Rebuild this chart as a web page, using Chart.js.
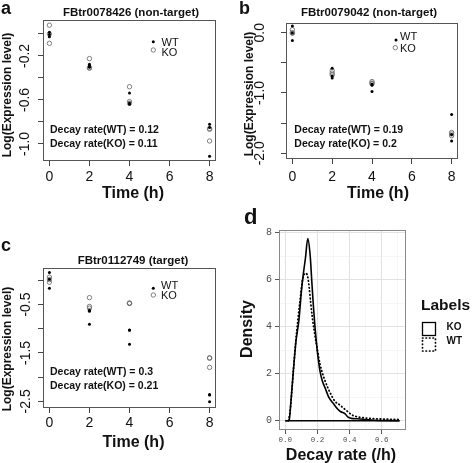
<!DOCTYPE html>
<html>
<head>
<meta charset="utf-8">
<script src="https://cdn.jsdelivr.net/npm/chart.js@4.4.1/dist/chart.umd.min.js"></script>
<style>
  html, body { margin: 0; padding: 0; background: #fff; }
  #wrap { position: relative; width: 472px; height: 463px; overflow: hidden; background: #fff; }
  canvas { position: absolute; }
</style>
</head>
<body>
<div id="wrap">
  <canvas id="pa" width="236" height="215" style="left:0;top:0"></canvas>
  <canvas id="pb" width="236" height="205" style="left:236px;top:0"></canvas>
  <canvas id="pc" width="236" height="233" style="left:0;top:230px"></canvas>
  <canvas id="pd" width="236" height="258" style="left:236px;top:205px"></canvas>
</div>
<script>
// ---- data ----
const times = [0, 2, 4, 8];
const xTicks = [0, 2, 4, 6, 8];

// panel a : FBtr0078426, three replicates per time point
const aWT = [[0.015, -0.005, -0.025], [-0.276, -0.29, -0.302], [-0.536, -0.64, -0.628], [-0.82, -0.85, -1.112]];
const aKO = [[0.08, 0.0, -0.085], [-0.224, -0.312, -0.305], [-0.48, -0.615, -0.63], [-0.867, -0.973, -0.86]];
const aYTicks = [0, -0.2, -0.4, -0.6, -0.8, -1.0];
const aYLabels = [-0.2, -0.6, -1.0];

// panel b : FBtr0079042
const bWT = [[0.11, -0.005, -0.13], [-0.59, -0.72, -0.75], [-0.85, -0.87, -0.975], [-1.355, -1.69, -1.795]];
const bKO = [[0.05, 0.0, -0.01], [-0.63, -0.67, -0.70], [-0.81, -0.835, -0.845], [-1.655, -1.71, -1.68]];
const bYTicks = [0, -0.5, -1.0, -1.5, -2.0];
const bYLabels = [0, -1.0, -2.0];

// panel c : FBtr0112749
const cWT = [[0.16, 0.02, -0.165], [-0.64, -0.91, -0.62], [-1.026, -1.32, -1.03], [-2.36, -2.51, -2.37]];
const cKO = [[0.065, 0.015, -0.04], [-0.358, -0.54, -0.575], [-0.47, -0.475, -0.48], [-1.6, -1.8, -1.61]];
const cYTicks = [0, -0.5, -1.0, -1.5, -2.0, -2.5];
const cYLabels = [-0.5, -1.5, -2.5];

// panel d : density of decay rates
const dKOx = [0, 0.02, 0.025, 0.035, 0.05, 0.066, 0.085, 0.1, 0.115, 0.125, 0.14, 0.155, 0.165, 0.175, 0.185, 0.2, 0.216, 0.23, 0.25, 0.27, 0.3, 0.325, 0.345, 0.37, 0.39, 0.41, 0.45, 0.5, 0.55, 0.6, 0.71];
const dKOy = [0, 0, 0.05, 0.8, 2.1, 3.35, 4.3, 5.5, 6.4, 6.9, 7.75, 7.0, 5.9, 4.85, 3.95, 2.9, 2.1, 1.7, 1.35, 1.0, 0.72, 0.5, 0.38, 0.3, 0.15, 0.1, 0.08, 0.05, 0.02, 0.01, 0];
const dWTx = [0.02, 0.03, 0.04, 0.05, 0.065, 0.08, 0.095, 0.105, 0.115, 0.13, 0.14, 0.148, 0.158, 0.168, 0.178, 0.195, 0.216, 0.247, 0.278, 0.309, 0.333, 0.375, 0.416, 0.45, 0.478, 0.54, 0.6, 0.644, 0.7, 0.717];
const dWTy = [0, 0.4, 1.2, 2.1, 3.35, 4.4, 5.3, 5.9, 6.2, 6.27, 6.1, 5.7, 5.0, 4.4, 3.9, 3.2, 2.4, 1.7, 1.2, 0.82, 0.7, 0.46, 0.24, 0.16, 0.13, 0.09, 0.07, 0.06, 0.05, 0];
const dBaseX = [0, 0.71];
const dXTicks = [0, 0.1, 0.2, 0.3, 0.4, 0.5, 0.6, 0.7];
const dXMajor = [0, 0.2, 0.4, 0.6];
const dYTicks = [0, 1, 2, 3, 4, 5, 6, 7, 8];
const dYMajor = [0, 2, 4, 6, 8];

// ---- helpers ----
const SANS = "'Liberation Sans', Arial, sans-serif";
const MONO = "'Liberation Mono', 'Courier New', monospace";

function pts(vals) {
  const out = [];
  times.forEach((t, i) => vals[i].forEach((v) => out.push({ x: t, y: v })));
  return out;
}

function txt(ctx, s, x, y, font, align, rot) {
  ctx.save();
  ctx.font = font;
  ctx.fillStyle = "#111";
  ctx.textAlign = align || "left";
  ctx.textBaseline = rot ? "middle" : "alphabetic";
  ctx.translate(x, y);
  if (rot) ctx.rotate(-Math.PI / 2);
  ctx.fillText(s, 0, 0);
  ctx.restore();
}

function dot(ctx, x, y, open) {
  ctx.save();
  ctx.beginPath();
  if (open) {
    ctx.arc(x, y, 2.2, 0, Math.PI * 2);
    ctx.strokeStyle = "#707070";
    ctx.lineWidth = 0.9;
    ctx.stroke();
  } else {
    ctx.arc(x, y, 1.5, 0, Math.PI * 2);
    ctx.fillStyle = "#000";
    ctx.fill();
  }
  ctx.restore();
}

function frame(color) {
  return {
    id: "frame",
    afterDraw(chart) {
      const a = chart.chartArea, ctx = chart.ctx;
      ctx.save();
      ctx.strokeStyle = color;
      ctx.lineWidth = 1;
      ctx.strokeRect(Math.round(a.left) + 0.5, Math.round(a.top) + 0.5,
        Math.round(a.right - a.left) - 1, Math.round(a.bottom - a.top) - 1);
      ctx.restore();
    },
  };
}

function timePanel(id, p) {
  const cv = document.getElementById(id);
  const W = cv.width, H = cv.height;
  const decor = {
    id: "decor",
    afterDraw(chart) {
      const ctx = chart.ctx, ys = chart.scales.y;
      txt(ctx, p.letter, p.letterX, p.letterY, "bold 18px " + SANS);
      txt(ctx, p.title, p.titleX, p.titleY, "bold 11.5px " + SANS, "center");
      txt(ctx, "Log(Expression level)", p.yTitle[0], p.yTitle[1], "bold 12px " + SANS, "center", true);
      txt(ctx, "Time (h)", p.xTitle[0], p.xTitle[1], "bold 16px " + SANS, "center");
      p.yLabels.forEach((v) => {
        txt(ctx, v.toFixed(1), p.yLabX, ys.getPixelForValue(v), "14px " + SANS, "center", true);
      });
      dot(ctx, p.leg.wt[0], p.leg.wt[1], false);
      dot(ctx, p.leg.ko[0], p.leg.ko[1], true);
      txt(ctx, "WT", p.leg.tx, p.leg.wtY, "11px " + SANS);
      txt(ctx, "KO", p.leg.tx, p.leg.koY, "11px " + SANS);
      txt(ctx, p.decay[0], p.decayX, p.decayY[0], "bold 10.5px " + SANS);
      txt(ctx, p.decay[1], p.decayX, p.decayY[1], "bold 10.5px " + SANS);
    },
  };
  return new Chart(cv, {
    type: "scatter",
    data: {
      datasets: [
        { label: "WT", data: pts(p.wt), pointRadius: 1.5, pointBorderWidth: 0, pointBackgroundColor: "#000", pointHoverRadius: 1.5 },
        { label: "KO", data: pts(p.ko), pointRadius: 2.2, pointBorderWidth: 0.9, pointBorderColor: "#707070", pointBackgroundColor: "rgba(0,0,0,0)", pointHoverRadius: 2.2 },
      ],
    },
    options: {
      responsive: false,
      animation: false,
      devicePixelRatio: 1,
      events: [],
      layout: { padding: { left: 0, top: p.box[1], right: W - p.box[2], bottom: 0 } },
      plugins: { legend: { display: false }, tooltip: { enabled: false } },
      scales: {
        x: {
          type: "linear",
          min: -0.32,
          max: 8.32,
          afterBuildTicks: (s) => { s.ticks = xTicks.map((v) => ({ value: v })); },
          afterFit: (s) => { s.height = H - p.box[3]; },
          grid: { drawOnChartArea: false, tickLength: 5, tickColor: "#444" },
          border: { display: false },
          ticks: { autoSkip: false, maxRotation: 0, padding: p.xPad, color: "#111", font: { family: SANS, size: 14 }, callback: (v) => String(v) },
        },
        y: {
          type: "linear",
          min: p.yMin,
          max: p.yMax,
          afterBuildTicks: (s) => { s.ticks = p.yTicks.map((v) => ({ value: v })); },
          afterFit: (s) => { s.width = p.box[0]; },
          grid: { drawOnChartArea: false, tickLength: 5, tickColor: "#444" },
          border: { display: false },
          ticks: { display: false, autoSkip: false },
        },
      },
    },
    plugins: [frame("#555"), decor],
  });
}

// ---- panels a, b, c ----
timePanel("pa", {
  wt: aWT, ko: aKO, yTicks: aYTicks, yLabels: aYLabels,
  yMin: -1.155, yMax: 0.127, box: [43, 20, 216, 161], xPad: 2.3,
  letter: "a", letterX: 1, letterY: 14,
  title: "FBtr0078426 (non-target)", titleX: 131, titleY: 15.5,
  yTitle: [8, 95], xTitle: [133, 198], yLabX: 25.5,
  leg: { wt: [153.3, 41.7], ko: [153.3, 50], tx: 161.5, wtY: 45.5, koY: 55.5 },
  decay: ["Decay rate(WT) = 0.12", "Decay rate(KO) = 0.11"], decayX: 50, decayY: [133, 147],
});

timePanel("pb", {
  wt: bWT, ko: bKO, yTicks: bYTicks, yLabels: bYLabels,
  yMin: -2.095, yMax: 0.161, box: [50, 23, 222, 159], xPad: 4.3,
  letter: "b", letterX: 3, letterY: 14,
  title: "FBtr0079042 (non-target)", titleX: 133, titleY: 15.5,
  yTitle: [13.5, 94], xTitle: [142, 198], yLabX: 24,
  leg: { wt: [160, 40], ko: [159.3, 47.7], tx: 164, wtY: 40, koY: 51.5 },
  decay: ["Decay rate(WT) = 0.19", "Decay rate(KO) = 0.2"], decayX: 58.3, decayY: [133, 147],
});

timePanel("pc", {
  wt: cWT, ko: cKO, yTicks: cYTicks, yLabels: cYLabels,
  yMin: -2.638, yMax: 0.254, box: [43, 38, 216, 178], xPad: 1.9,
  letter: "c", letterX: 1, letterY: 21,
  title: "FBtr0112749 (target)", titleX: 133, titleY: 33.5,
  yTitle: [7.7, 119], xTitle: [133.5, 216.5], yLabX: 26.5,
  leg: { wt: [153.3, 58.3], ko: [153.3, 65], tx: 161, wtY: 58.5, koY: 69 },
  decay: ["Decay rate(WT) = 0.3", "Decay rate(KO) = 0.21"], decayX: 50, decayY: [145, 158.5],
});

// ---- panel d ----
const xy = (xs, ys) => xs.map((x, i) => ({ x: x, y: ys[i] }));
const isMajor = (list) => (ctx) => ctx.tick && list.includes(ctx.tick.value);

const dDecor = {
  id: "dDecor",
  afterDraw(chart) {
    const ctx = chart.ctx;
    txt(ctx, "d", 8, 19, "bold 22px " + SANS);
    txt(ctx, "Density", 11.5, 124, "bold 16px " + SANS, "center", true);
    txt(ctx, "Decay rate (/h)", 105, 255, "bold 16px " + SANS, "center");
    txt(ctx, "Labels", 185, 105, "bold 15.5px " + SANS);
    ctx.save();
    ctx.strokeStyle = "#000";
    ctx.lineWidth = 1.3;
    ctx.strokeRect(186.5, 117.5, 13, 13);
    ctx.setLineDash([0.5, 3]);
    ctx.lineCap = "round";
    ctx.lineWidth = 1.7;
    ctx.strokeRect(186.5, 133, 13, 13);
    ctx.restore();
    txt(ctx, "KO", 210.5, 124.5, "bold 10px " + SANS);
    txt(ctx, "WT", 210.5, 138.5, "bold 10px " + SANS);
  },
};

new Chart(document.getElementById("pd"), {
  type: "line",
  data: {
    datasets: [
      { label: "KO", data: xy(dKOx, dKOy), borderColor: "#000", borderWidth: 1.6, pointRadius: 0, cubicInterpolationMode: "monotone", fill: false },
      { label: "WT", data: xy(dWTx, dWTy), borderColor: "#000", borderWidth: 1.8, borderDash: [0.5, 3], borderCapStyle: "round", pointRadius: 0, cubicInterpolationMode: "monotone", fill: false },
      { label: "base", data: xy(dBaseX, [0, 0]), borderColor: "#000", borderWidth: 1.4, pointRadius: 0, fill: false },
    ],
  },
  options: {
    responsive: false,
    animation: false,
    devicePixelRatio: 1,
    events: [],
    layout: { padding: { left: 0, top: 25, right: 236 - 170, bottom: 0 } },
    plugins: { legend: { display: false }, tooltip: { enabled: false } },
    scales: {
      x: {
        type: "linear",
        min: -0.039,
        max: 0.75,
        afterBuildTicks: (s) => { s.ticks = dXTicks.map((v) => ({ value: v })); },
        afterFit: (s) => { s.height = 258 - 225; },
        grid: {
          color: (c) => (isMajor(dXMajor)(c) ? "#e2e2e2" : "#f0f0f0"),
          lineWidth: (c) => (isMajor(dXMajor)(c) ? 1 : 0.6),
          tickColor: (c) => (isMajor(dXMajor)(c) ? "#555" : "rgba(0,0,0,0)"),
          tickLength: 4,
        },
        border: { display: false },
        ticks: { autoSkip: false, maxRotation: 0, padding: 1.5, color: "#4d4d4d", font: { family: MONO, size: 7.5 },
          callback: (v) => (dXMajor.includes(v) ? v.toFixed(1) : "") },
      },
      y: {
        type: "linear",
        min: -0.396,
        max: 8.115,
        afterBuildTicks: (s) => { s.ticks = dYTicks.map((v) => ({ value: v })); },
        afterFit: (s) => { s.width = 43; },
        grid: {
          color: (c) => (isMajor(dYMajor)(c) ? "#e2e2e2" : "#f0f0f0"),
          lineWidth: (c) => (isMajor(dYMajor)(c) ? 1 : 0.6),
          tickColor: (c) => (isMajor(dYMajor)(c) ? "#555" : "rgba(0,0,0,0)"),
          tickLength: 4,
        },
        border: { display: false },
        ticks: { autoSkip: false, padding: 3, color: "#4d4d4d", font: { family: MONO, size: 10 },
          callback: (v) => (dYMajor.includes(v) ? String(v) : "") },
      },
    },
  },
  plugins: [frame("#888"), dDecor],
});
</script>
</body>
</html>
